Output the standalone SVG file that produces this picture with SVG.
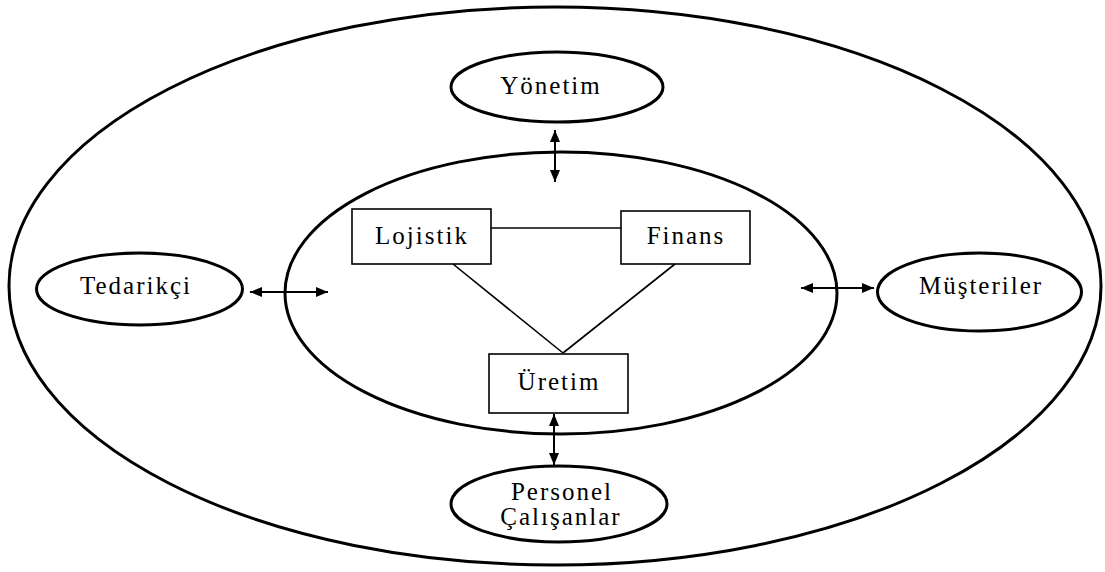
<svg xmlns="http://www.w3.org/2000/svg" width="1105" height="572" viewBox="0 0 1105 572">
  <defs>
    <style>
      .ring { fill: none; stroke: #000; stroke-width: 3; }
      .node { fill: #fff; stroke: #000; stroke-width: 3; }
      .box { fill: #fff; stroke: #000; stroke-width: 1.6; }
      .link { fill: none; stroke: #000; stroke-width: 1.6; }
      .arrow { fill: none; stroke: #000; stroke-width: 2; marker-start: url(#head); marker-end: url(#head); }
      text { font-family: 'Liberation Serif', 'Times New Roman', serif; font-size: 25px; letter-spacing: 2px; fill: #000; text-anchor: middle; }
    </style>
    <marker id="head" viewBox="0 0 12 10" refX="12" refY="5" markerWidth="12" markerHeight="10" markerUnits="userSpaceOnUse" orient="auto-start-reverse">
      <path d="M0,0 L12,5 L0,10 Z" fill="#000"/>
    </marker>
  </defs>

  <!-- environment and organisation boundaries -->
  <g id="outer-boundary">
    <ellipse class="ring" cx="555" cy="286" rx="546" ry="279"/>
  </g>
  <g id="inner-boundary">
    <ellipse class="ring" cx="561" cy="293" rx="276" ry="141"/>
  </g>

  <!-- connectors -->
  <g id="connectors">
    <line class="link" x1="491" y1="228" x2="621" y2="228"/>
    <line class="link" x1="453" y1="264" x2="563" y2="353"/>
    <line class="link" x1="675" y1="264" x2="563" y2="353"/>
    <line class="arrow" x1="555" y1="130" x2="555" y2="182"/>
    <line class="arrow" x1="554" y1="414" x2="554" y2="465"/>
    <line class="arrow" x1="250" y1="292" x2="328" y2="292"/>
    <line class="arrow" x1="801" y1="288" x2="874" y2="288"/>
  </g>

  <!-- external stakeholders -->
  <g id="yonetim">
    <ellipse class="node" cx="557" cy="87" rx="106" ry="35"/>
    <text x="551" y="94">Yönetim</text>
  </g>
  <g id="tedarikci">
    <ellipse class="node" cx="139.5" cy="289" rx="103" ry="36"/>
    <text x="136" y="294">Tedarikçi</text>
  </g>
  <g id="musteriler">
    <ellipse class="node" cx="979.5" cy="292" rx="102" ry="39"/>
    <text x="981" y="294">Müşteriler</text>
  </g>
  <g id="personel">
    <ellipse class="node" cx="559" cy="504" rx="108" ry="38"/>
    <text x="562" y="500">Personel</text>
    <text x="561" y="525">Çalışanlar</text>
  </g>

  <!-- internal departments -->
  <g id="lojistik">
    <rect class="box" x="352" y="209" width="139" height="55"/>
    <text x="422" y="244">Lojistik</text>
  </g>
  <g id="finans">
    <rect class="box" x="621" y="211" width="129" height="53"/>
    <text x="686" y="244">Finans</text>
  </g>
  <g id="uretim">
    <rect class="box" x="489" y="354" width="139" height="59"/>
    <text x="559" y="390">Üretim</text>
  </g>
</svg>
